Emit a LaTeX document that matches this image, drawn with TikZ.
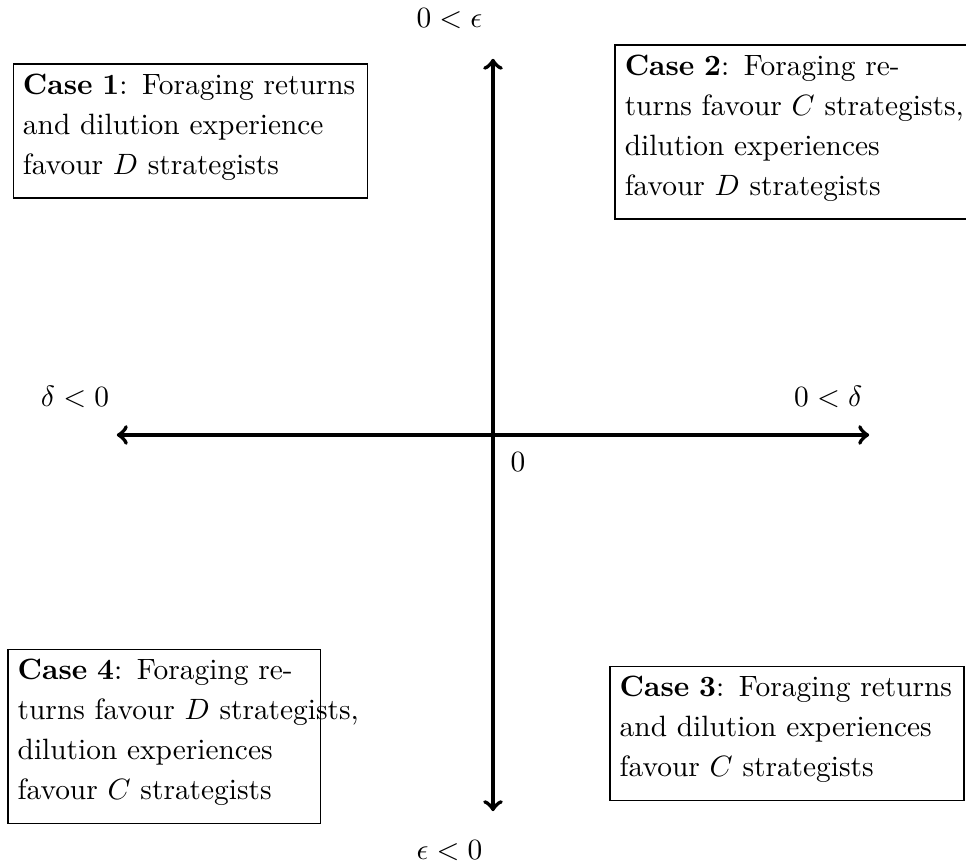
\documentclass[tikz,border=0pt]{standalone}
\begin{document}
\begin{tikzpicture}[
  axis/.style={<->, line width=1.4pt},
  casebox/.style={draw, line width=0.4pt, align=left, inner sep=3.33pt,
    font=\fontsize{10}{13.6}\selectfont},
  lbl/.style={inner sep=0pt, anchor=base}
]
\useasboundingbox (-5.897,-5.144) rectangle (5.658,5.203);
\coordinate (L) at (-4.5,0);
\coordinate (R) at (4.5,0);
\coordinate (T) at (0,4.5);
\coordinate (B) at (0,-4.5);
\draw[axis] (L) -- (R);
\draw[axis] (B) -- (T);

\node[lbl] (ep) at (-0.52,4.87) {$0<\epsilon$};
\node[lbl] (en) at (-0.52,-5.08) {$\epsilon<0$};
\node[lbl] (dn) at (-5.0,0.335) {$\delta<0$};
\node[lbl] (dp) at (4.01,0.335) {$0<\delta$};
\node[lbl] (zero) at (0.30,-0.437) {$0$};

\newcommand{\botstrut}{\rule[-4.8pt]{0pt}{4.8pt}}
\node[casebox, text width=4cm] (c1) at (-3.622,3.636)
  {\mbox{\textbf{Case 1}: Foraging returns}\\
   \mbox{and dilution experience}\\
   \mbox{favour $D$ strategists}\botstrut};
\node[casebox, text width=4cm] (c2) at (3.576,3.624)
  {\mbox{\textbf{Case 2}: Foraging re-}\\
   \mbox{turns favour $C$ strategists,}\\
   \mbox{dilution experiences}\\
   \mbox{favour $D$ strategists}\botstrut};
\node[casebox, text width=4cm] (c3) at (3.516,-3.571)
  {\mbox{\textbf{Case 3}: Foraging returns}\\
   \mbox{and dilution experiences}\\
   \mbox{favour $C$ strategists}\botstrut};
\node[casebox, text width=3.5cm] (c4) at (-3.935,-3.607)
  {\mbox{\textbf{Case 4}: Foraging re-}\\
   \mbox{turns favour $D$ strategists,}\\
   \mbox{dilution experiences}\\
   \mbox{favour $C$ strategists}\botstrut};
\end{tikzpicture}
\end{document}
